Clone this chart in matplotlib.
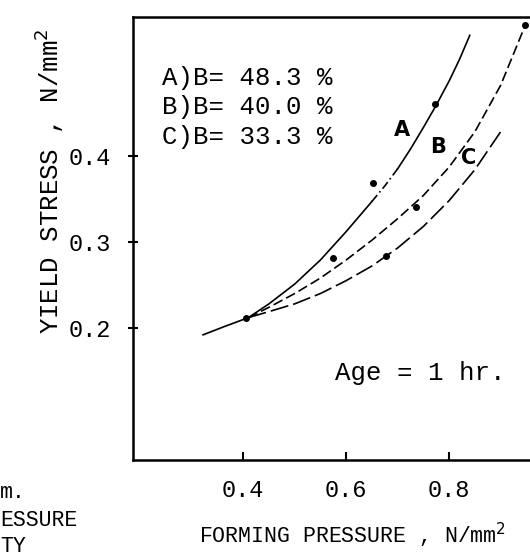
import matplotlib
matplotlib.use("Agg")
import matplotlib.pyplot as plt

# Data
shared_x = [0.322, 0.365, 0.41]
shared_y = [0.192, 0.202, 0.212]

a_x = [0.41, 0.45, 0.50, 0.55, 0.60, 0.65, 0.675, 0.70, 0.725, 0.75, 0.775, 0.80, 0.82, 0.84]
a_y = [0.212, 0.228, 0.251, 0.279, 0.312, 0.347, 0.365, 0.385, 0.408, 0.433, 0.459, 0.487, 0.512, 0.540]

b_x = [0.41, 0.45, 0.50, 0.55, 0.60, 0.65, 0.70, 0.75, 0.80, 0.85, 0.90, 0.948]
b_y = [0.212, 0.224, 0.240, 0.258, 0.279, 0.302, 0.327, 0.354, 0.387, 0.428, 0.482, 0.552]

c_x = [0.41, 0.45, 0.50, 0.55, 0.60, 0.65, 0.70, 0.75, 0.80, 0.85, 0.90]
c_y = [0.212, 0.219, 0.228, 0.240, 0.255, 0.272, 0.293, 0.318, 0.348, 0.384, 0.428]

pts_x = [0.406, 0.575, 0.652, 0.773, 0.736, 0.948, 0.678]
pts_y = [0.212, 0.281, 0.369, 0.460, 0.340, 0.552, 0.284]

x_ticks = [0.4, 0.6, 0.8]
x_ticklabels = ["0.4", "0.6", "0.8"]
y_ticks = [0.2, 0.3, 0.4]
y_ticklabels = ["0.2", "0.3", "0.4"]

legend_lines = ["A)B= 48.3 %", "B)B= 40.0 %", "C)B= 33.3 %"]
curve_labels = ["A", "B", "C"]
curve_label_x = [0.708, 0.778, 0.837]
curve_label_y = [0.430, 0.410, 0.398]

mono = "Liberation Mono"

fig = plt.figure(figsize=(5.30, 5.59), dpi=100)
ax = fig.add_axes([0.251, 0.177, 0.749, 0.793])

lw = 1.2
ax.plot(shared_x, shared_y, color="black", lw=lw)
# curve A: solid, with a short dash-dot stretch
ax.plot(a_x[:6], a_y[:6], color="black", lw=lw)
ax.plot(a_x[5:8], a_y[5:8], color="black", lw=lw, dashes=(5, 2, 1, 2))
ax.plot(a_x[7:], a_y[7:], color="black", lw=lw)
ax.plot(b_x, b_y, color="black", lw=lw, dashes=(6, 2.5))
ax.plot(c_x, c_y, color="black", lw=lw, dashes=(11, 3))
ax.plot(pts_x, pts_y, "o", color="black", ms=4)

ax.set_xlim(0.186, 0.957)
ax.set_ylim(0.0465, 0.5616)
ax.set_xticks(x_ticks)
ax.set_xticklabels(x_ticklabels, fontfamily=mono, fontsize=17)
ax.set_yticks(y_ticks)
ax.set_yticklabels(y_ticklabels, fontfamily=mono, fontsize=17)
ax.tick_params(axis="x", direction="in", length=6, width=1.5, pad=13.5)
ax.tick_params(axis="y", direction="inout", length=7, width=1.5, pad=12.5)

for s in ["left", "bottom", "top"]:
    ax.spines[s].set_linewidth(1.8)
ax.spines["right"].set_visible(False)

ax.set_xlabel("FORMING PRESSURE , N/mm$^2$", fontfamily=mono, fontsize=15.5,
              labelpad=13.5, x=0.554)
ax.set_ylabel("YIELD STRESS , N/mm$^2$", fontfamily=mono, fontsize=18.5,
              labelpad=2, y=0.628)

for i, line in enumerate(legend_lines):
    ax.text(0.073, 0.862 - i * 0.0665, line, transform=ax.transAxes,
            fontfamily=mono, fontsize=18.5, va="center", ha="left")

for lab, lx, ly in zip(curve_labels, curve_label_x, curve_label_y):
    ax.text(lx, ly, lab, fontsize=15, fontweight="bold", ha="center", va="center")

ax.text(0.509, 0.196, "Age = 1 hr.", transform=ax.transAxes, fontfamily=mono,
        fontsize=18.5, ha="left", va="center")

fig.text(0.0, 1 - 492 / 559, "m.", fontfamily=mono, fontsize=15.5, ha="left", va="center")
fig.text(0.0, 1 - 520 / 559, "ESSURE", fontfamily=mono, fontsize=15.5, ha="left", va="center")
fig.text(0.0, 7 / 559, "TY", fontfamily=mono, fontsize=15.5, ha="left", va="baseline")

fig.savefig("out.png", dpi=100, facecolor="white")
